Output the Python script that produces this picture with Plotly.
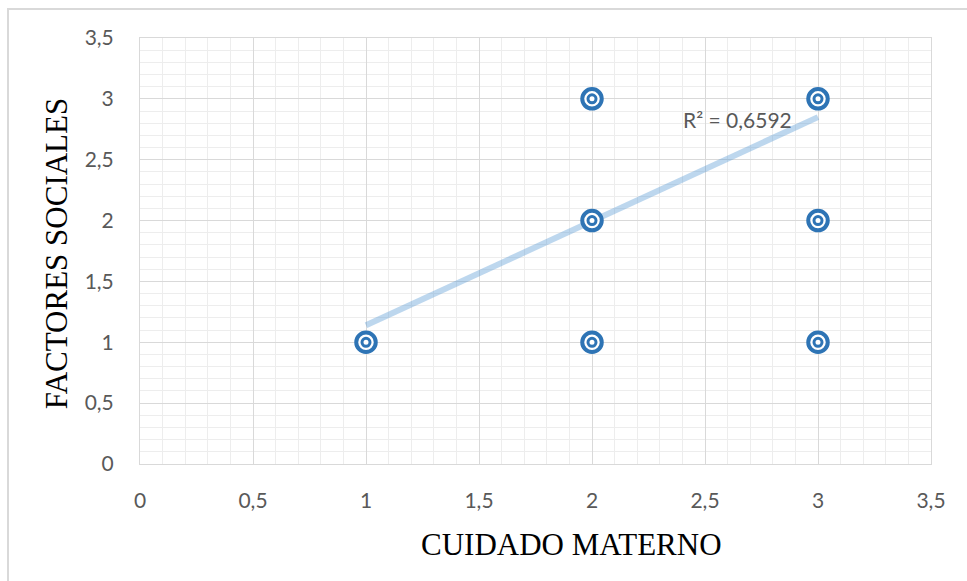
import plotly.graph_objects as go

# Observed pairs (CUIDADO MATERNO, FACTORES SOCIALES)
cuidado_materno = [1, 2, 2, 2, 3, 3, 3]
factores_sociales = [1, 1, 2, 3, 1, 2, 3]

# Linear trend line endpoints and its fit statistic
trend_x = [1, 3]
trend_y = [1.14, 2.85]
r_squared = "0,6592"

tick_vals = [0, 0.5, 1, 1.5, 2, 2.5, 3, 3.5]
tick_text = ["0", "0,5", "1", "1,5", "2", "2,5", "3", "3,5"]

BLUE = "#2e74b5"
MAJOR = "#d9d9d9"
MINOR = "#ededed"
TICK_FONT = dict(family="Lato, Open Sans, sans-serif", size=21, color="#595959")
TITLE_FONT = dict(family="Liberation Serif, Times New Roman, serif", size=31, color="#000000")

fig = go.Figure()

# Trend line underneath the markers
fig.add_trace(go.Scatter(
    x=trend_x, y=trend_y, mode="lines",
    line=dict(color="rgba(91,155,213,0.40)", width=6),
    hoverinfo="skip", showlegend=False,
))

# Double-ring markers: outer ring then inner ring
fig.add_trace(go.Scatter(
    x=cuidado_materno, y=factores_sociales, mode="markers",
    marker=dict(symbol="circle", size=19.5, color="white",
                line=dict(color=BLUE, width=4)),
    showlegend=False,
))
fig.add_trace(go.Scatter(
    x=cuidado_materno, y=factores_sociales, mode="markers",
    marker=dict(symbol="circle", size=8, color="white",
                line=dict(color=BLUE, width=3)),
    showlegend=False, hoverinfo="skip",
))

axis_common = dict(
    range=[0, 3.5], tickvals=tick_vals, ticktext=tick_text,
    showgrid=True, gridcolor=MAJOR, gridwidth=1,
    minor=dict(dtick=0.1, showgrid=True, gridcolor=MINOR, gridwidth=1),
    zeroline=False, showline=True, linecolor=MAJOR, linewidth=1, mirror=True,
    ticks="", tickfont=TICK_FONT,
)

fig.update_layout(
    width=967, height=581,
    margin=dict(l=140, r=36, t=38, b=117),
    paper_bgcolor="white", plot_bgcolor="white",
    xaxis=dict(**axis_common, ticklabelstandoff=18),
    yaxis=dict(**axis_common, ticklabelstandoff=21),
    annotations=[
        dict(text="CUIDADO MATERNO", xref="paper", yref="paper",
             x=0.545, y=-0.188, xanchor="center", yanchor="middle",
             showarrow=False, font=TITLE_FONT),
        dict(text="FACTORES SOCIALES", xref="paper", yref="paper",
             x=-0.106, y=0.495, xanchor="center", yanchor="middle",
             textangle=-90, showarrow=False, font=TITLE_FONT),
        dict(text="R² = " + r_squared, xref="x", yref="y",
             x=2.645, y=2.83, xanchor="center", yanchor="middle",
             showarrow=False, font=TICK_FONT),
    ],
    shapes=[
        dict(type="rect", xref="paper", yref="paper",
             x0=-0.1669, y0=-0.4, x1=1.1, y1=1.068,
             line=dict(color="#d9d9d9", width=2), layer="below"),
    ],
)

fig.write_html("out.html")
